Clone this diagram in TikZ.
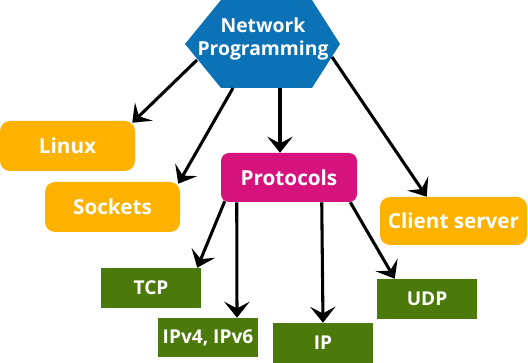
\documentclass[tikz,border=0pt]{standalone}
\usepackage{fontspec}
\setmainfont{Open Sans}
\usetikzlibrary{arrows.meta,calc}
\definecolor{netblue}{RGB}{11,114,181}
\definecolor{topicorange}{RGB}{253,178,0}
\definecolor{protopink}{RGB}{214,19,124}
\definecolor{protogreen}{RGB}{75,122,11}

\begin{document}
\begin{tikzpicture}[x=0.75pt, y=-0.75pt,
                    topic/.style={fill=topicorange, rounded corners=7.5pt, text=white,
                                  font=\fontsize{15.5}{18}\selectfont\bfseries,
                                  minimum width=101.25pt, minimum height=37.5pt},
                    proto/.style={fill=protogreen, text=white,
                                  font=\fontsize{14.3}{17}\selectfont\bfseries,
                                  minimum width=75pt, minimum height=30pt},
                    link/.style={->, line width=2.3pt, black},
                    >={Stealth[length=12pt, width=19pt, inset=5pt]}]
  \useasboundingbox (0,0) rectangle (528,363);

  % the hub: a flat-topped hexagon
  \fill[netblue] (221,0) -- (312,0) -- (340,44) -- (312,88) -- (221,88) -- (185,44) -- cycle;
  \node[text=white, align=center, font=\fontsize{14.5}{17.5}\selectfont\bfseries] (net) at (263,39)
    {Network\\ Programming};
  \coordinate (net-l)  at (197,60);
  \coordinate (net-sl) at (233,88);
  \coordinate (net-s)  at (280,88);
  \coordinate (net-r)  at (332,57);

  % first level
  \node[topic] (linux)   at (67.5,146)  {Linux};
  \node[topic] (sockets) at (112.5,207) {Sockets};
  \node[topic, minimum width=110.25pt, minimum height=36pt] (client) at (453.5,221) {Client server};
  \node[topic, fill=protopink, rounded corners=6pt, minimum width=102pt, minimum height=36.75pt]
    (protocols) at (289,177.5) {Protocols};

  % the protocols themselves
  \node[proto] (tcp) at (151,288)   {TCP};
  \node[proto, minimum height=29.25pt] (ipv) at (208,337.5) {IPv4, IPv6};
  \node[proto] (ip)  at (323,343)   {IP};
  \node[proto] (udp) at (427,299)   {UDP};

  \draw[link] (net-l)  -- ($(linux.north east)+(-3,2)$);
  \draw[link] (net-sl) -- ($(sockets.north east)+(-2,2)$);
  \draw[link] (net-s)  -- ($(protocols.north)+(-9,0)$);
  \draw[link] (net-r)  -- ($(client.north west)+(47,0)$);

  \draw[link] ($(protocols.south west)+(4,-1)$)  -- ($(tcp.north east)+(-4,0)$);
  \draw[link] ($(protocols.south west)+(16,0)$)  -- ($(ipv.north)+(29,0)$);
  \draw[link] ($(protocols.south west)+(101,0)$) -- (ip.north);
  \draw[link] ($(protocols.south east)+(-7,0)$)  -- ($(udp.north west)+(18,0)$);
\end{tikzpicture}
\end{document}
